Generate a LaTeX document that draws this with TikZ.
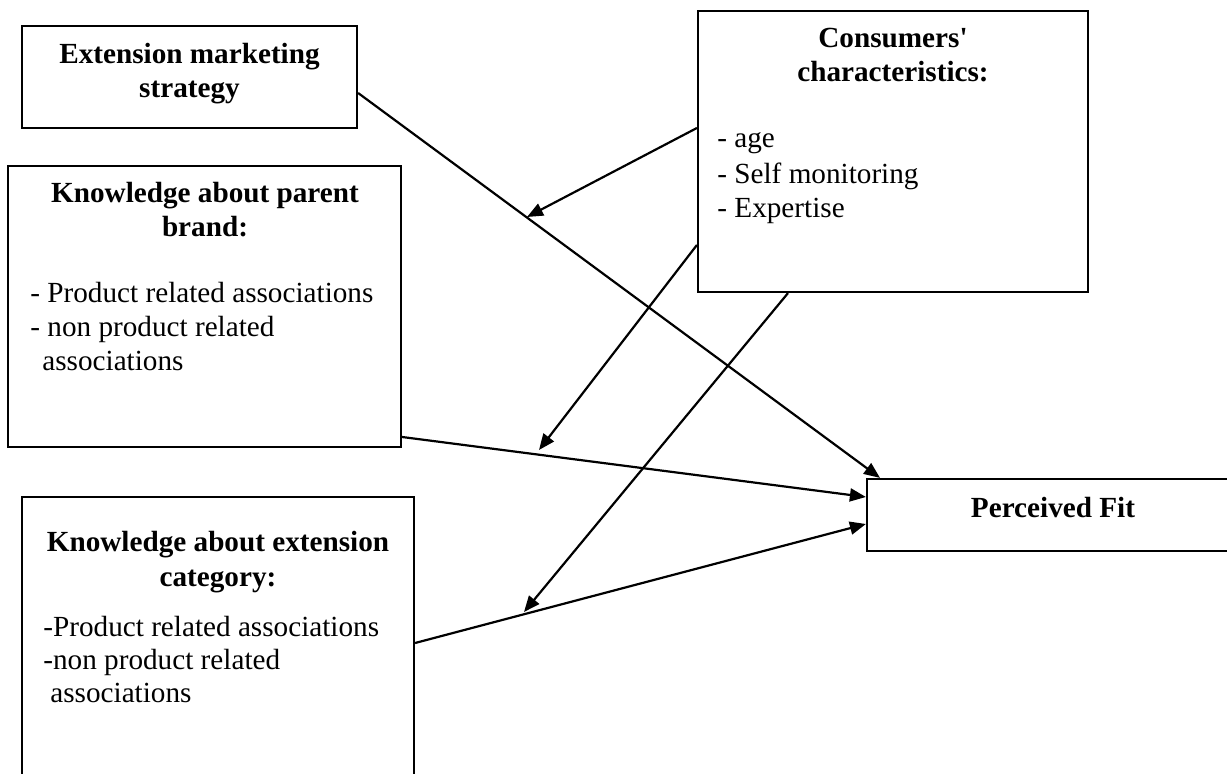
\documentclass[tikz,border=0pt]{standalone}
\usepackage{fontspec}
\setmainfont{Liberation Serif}
\usetikzlibrary{arrows.meta,calc}
\begin{document}
\begin{tikzpicture}[x=0.5pt,y=-0.5pt,
  box/.style={draw,line width=1.1pt,inner sep=0,rectangle},
  ttl/.style={font=\bfseries\fontsize{14.6}{17}\selectfont,anchor=base,inner sep=0},
  itm/.style={font=\fontsize{14.6}{17}\selectfont,anchor=base west,inner sep=0},
  conn/.style={line width=1.1pt,-{Triangle[length=8pt,width=6.5pt]}}]
\useasboundingbox (0,0) rectangle (1227,774);
\clip (0,0) rectangle (1227,774);
\fill[white] (0,0) rectangle (1227,774);
% boxes
\node[box,minimum width=167.5pt,minimum height=51pt] (ext) at (189.5,77) {};
\node[box,minimum width=195pt,minimum height=140.5pt] (cons) at (893,151.5) {};
\node[box,minimum width=196.5pt,minimum height=140.5pt] (parent) at (204.5,306.5) {};
\node[box,minimum width=196pt,minimum height=151.5pt] (extcat) at (218,648.5) {};
\node[box,minimum width=186.5pt,minimum height=36pt] (fit) at (1053.5,515) {};
% texts
\node[ttl] (t1a) at (189.5,64) {Extension marketing};
\node[ttl] (t1b) at (189.5,98) {strategy};
\node[ttl] (t2a) at (893,48) {Consumers\textquotesingle};
\node[ttl] (t2b) at (893,82) {characteristics:};
\node[itm] (t2c) at (717,148) {- age};
\node[itm] (t2d) at (717,184) {- Self monitoring};
\node[itm] (t2e) at (717,218) {- Expertise};
\node[ttl] (t3a) at (205,203) {Knowledge about parent};
\node[ttl] (t3b) at (205,237) {brand:};
\node[itm] (t3c) at (30,303) {- Product related associations};
\node[itm] (t3d) at (30,337) {- non product related};
\node[itm] (t3e) at (42,371) {associations};
\node[ttl] (t4a) at (218,552) {Knowledge about extension};
\node[ttl] (t4b) at (218,587) {category:};
\node[itm] (t4c) at (43,637) {-Product related associations};
\node[itm] (t4d) at (43,670) {-non product related};
\node[itm] (t4e) at (50,703) {associations};
\node[ttl] (t5) at (1053,518) {Perceived Fit};
% connector end points
\coordinate (s1) at ($(ext.north east)!(0,93)!(ext.south east)$);
\coordinate (e1) at ($(fit.north west)!(880,0)!(fit.north east)$);
\coordinate (s2) at ($(parent.north east)!(0,437)!(parent.south east)$);
\coordinate (e2) at ($(fit.north west)!(0,497)!(fit.south west)$);
\coordinate (s3) at ($(extcat.north east)!(0,643)!(extcat.south east)$);
\coordinate (e3) at ($(fit.north west)!(0,524)!(fit.south west)$);
\coordinate (c1s) at ($(cons.north west)!(0,128)!(cons.south west)$);
\coordinate (c2s) at ($(cons.north west)!(0,245)!(cons.south west)$);
\coordinate (c3s) at ($(cons.south west)!(788,0)!(cons.south east)$);
\coordinate (c1e) at (527,217);
\coordinate (c2e) at (539,450);
\coordinate (c3e) at (524,612);
% connectors
\draw[conn] (s1) -- (e1);
\draw[conn] (s2) -- (e2);
\draw[conn] (s3) -- (e3);
\draw[conn] (c1s) -- (c1e);
\draw[conn] (c2s) -- (c2e);
\draw[conn] (c3s) -- (c3e);
\end{tikzpicture}
\end{document}
